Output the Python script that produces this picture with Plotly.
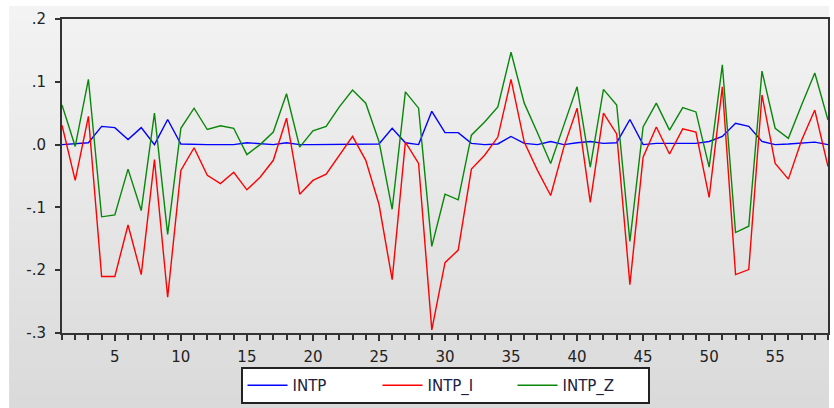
import plotly.graph_objects as go

periods = list(range(1, 60))

intp = [0.000, 0.001, 0.003, 0.029, 0.027, 0.008, 0.027, 0.000, 0.040, 0.001,
        0.000, 0.000, 0.000, 0.000, 0.003, 0.002, 0.000, 0.003, 0.000, 0.000,
        0.000, 0.000, 0.000, 0.000, 0.001, 0.026, 0.003, 0.000, 0.053, 0.019,
        0.019, 0.002, 0.000, 0.001, 0.013, 0.002, 0.000, 0.005, 0.000, 0.003,
        0.005, 0.002, 0.003, 0.040, 0.000, 0.002, 0.002, 0.002, 0.002, 0.005,
        0.013, 0.034, 0.029, 0.005, 0.000, 0.001, 0.002, 0.004, 0.000]

intp_i = [0.031, -0.057, 0.045, -0.210, -0.210, -0.128, -0.207, -0.024, -0.243, -0.041,
          -0.005, -0.049, -0.062, -0.044, -0.072, -0.052, -0.025, 0.042, -0.079, -0.057,
          -0.047, -0.017, 0.013, -0.025, -0.095, -0.215, 0.004, -0.030, -0.295, -0.188,
          -0.168, -0.039, -0.017, 0.012, 0.104, 0.004, -0.041, -0.081, -0.004, 0.058,
          -0.092, 0.050, 0.017, -0.223, -0.020, 0.028, -0.015, 0.025, 0.020, -0.084,
          0.092, -0.207, -0.199, 0.079, -0.030, -0.055, 0.007, 0.055, -0.035]

intp_z = [0.063, -0.003, 0.104, -0.115, -0.112, -0.039, -0.105, 0.050, -0.143, 0.026,
          0.058, 0.024, 0.030, 0.026, -0.016, 0.000, 0.020, 0.081, -0.004, 0.022,
          0.029, 0.060, 0.087, 0.066, 0.005, -0.103, 0.084, 0.058, -0.162, -0.079,
          -0.088, 0.015, 0.036, 0.060, 0.147, 0.066, 0.019, -0.030, 0.031, 0.092,
          -0.036, 0.088, 0.063, -0.154, 0.028, 0.066, 0.023, 0.059, 0.052, -0.036,
          0.127, -0.140, -0.130, 0.117, 0.026, 0.010, 0.063, 0.114, 0.039]

series_names = ["INTP", "INTP_I", "INTP_Z"]
series_colors = ["#0000ff", "#ff0000", "#0a870a"]

y_tickvals = [-0.3, -0.2, -0.1, 0.0, 0.1, 0.2]
y_ticktext = ["-.3", "-.2", "-.1", ".0", ".1", ".2"]
x_tickvals = [5, 10, 15, 20, 25, 30, 35, 40, 45, 50, 55]

fig = go.Figure()
for name, vals, col in zip(series_names, [intp, intp_i, intp_z], series_colors):
    fig.add_trace(go.Scatter(x=periods, y=vals, mode="lines", name=name,
                             line=dict(color=col, width=1.4)))

W, H = 834, 408
ML, MR, MT, MB = 62, 4, 19, 75
pw, ph = W - ML - MR, H - MT - MB

def px_x(p):
    return (p - ML) / pw

def px_y(p):
    return (H - MB - p) / ph

# background gradient bands (paper)
shapes = []
n = 30
top_c = (0xf3, 0xf3, 0xf3)
bot_c = (0xda, 0xda, 0xda)
for k in range(n):
    t = k / (n - 1)
    c = tuple(int(round(top_c[j] + (bot_c[j] - top_c[j]) * t)) for j in range(3))
    ytop = 6 + (H - 6) * k / n
    ybot = 6 + (H - 6) * (k + 1) / n + 1
    shapes.append(dict(type="rect", xref="paper", yref="paper", layer="below",
                       x0=px_x(9), x1=px_x(831), y0=px_y(ybot), y1=px_y(ytop),
                       fillcolor="rgb(%d,%d,%d)" % c, line=dict(width=0)))

fig.update_layout(
    width=W, height=H,
    margin=dict(l=ML, r=MR, t=MT, b=MB),
    paper_bgcolor="#ffffff",
    plot_bgcolor="#ffffff",
    font=dict(family="DejaVu Sans, Verdana, sans-serif", size=15, color="#222222"),
    shapes=shapes,
    showlegend=True,
    legend=dict(orientation="h", x=0.5, xanchor="center", y=px_y(404), yanchor="bottom",
                bgcolor="#ffffff", bordercolor="#222222", borderwidth=2,
                font=dict(size=15, color="#202040"), entrywidth=80,
                itemwidth=40, tracegroupgap=0),
)

fig.update_xaxes(range=[1, 59], tickvals=x_tickvals, ticks="outside", ticklen=6,
                 tickwidth=1.5, tickcolor="#333333",
                 minor=dict(dtick=1, tick0=0, ticks="outside", ticklen=5,
                            tickwidth=1.5, tickcolor="#333333"),
                 showline=True, linecolor="#333333", linewidth=2, mirror=True,
                 showgrid=False, zeroline=False, ticklabelstandoff=3)
fig.update_yaxes(range=[-0.3, 0.2], tickvals=y_tickvals, ticktext=y_ticktext,
                 ticks="outside", ticklen=5, tickwidth=1.5, tickcolor="#333333",
                 showline=True, linecolor="#333333", linewidth=2, mirror=True,
                 showgrid=False, zeroline=False, ticklabelstandoff=6)

fig.write_html("out.html")
